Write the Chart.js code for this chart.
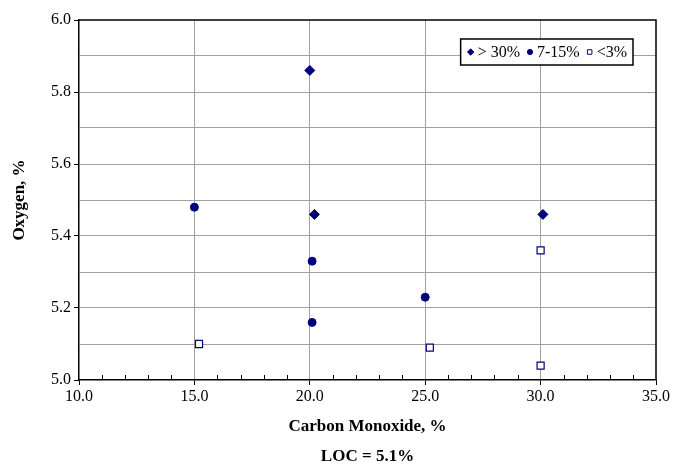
<!DOCTYPE html>
<html>
<head>
<meta charset="utf-8">
<script src="https://cdn.jsdelivr.net/npm/chart.js@4/dist/chart.umd.min.js"></script>
<style>
  html, body { margin: 0; padding: 0; background: #fff; }
  #wrap { width: 675px; height: 467px; }
</style>
</head>
<body>
<div id="wrap"><canvas id="c" width="675" height="467"></canvas></div>
<script>
// ---- data ----
const seriesNames = ['> 30%', '7-15%', '<3%'];
const above30X = [20.0, 20.2, 30.1];
const above30Y = [5.86, 5.46, 5.46];
const mid7to15X = [15.0, 20.1, 20.1, 25.0];
const mid7to15Y = [5.48, 5.33, 5.16, 5.23];
const below3X = [15.2, 25.2, 30.0, 30.0];
const below3Y = [5.10, 5.09, 5.36, 5.04];
const xTitle = ['Carbon Monoxide, %', 'LOC = 5.1%'];
const yTitle = 'Oxygen, %';

const FONT = '"Liberation Serif", "Times New Roman", serif';
const NAVY = '#000080';
const GRID = '#a0a0a0';

function pts(xs, ys) { return xs.map((x, i) => ({ x: x, y: ys[i] })); }

const framePlugin = {
  id: 'frame',
  beforeDatasetsDraw(chart) {
    const { ctx, chartArea: a } = chart;
    const xs = chart.scales.x;
    ctx.save();
    ctx.strokeStyle = '#000';
    ctx.lineWidth = 1;
    xs.ticks.forEach(t => {
      if (Math.round(t.value) % 5 !== 0) {
        const px = Math.round(xs.getPixelForValue(t.value)) + 0.5;
        ctx.beginPath();
        ctx.moveTo(px, a.bottom);
        ctx.lineTo(px, a.bottom - 5);
        ctx.stroke();
      }
    });
    ctx.lineWidth = 1.5;
    ctx.beginPath();
    ctx.moveTo(a.left, a.top);
    ctx.lineTo(a.right, a.top);
    ctx.lineTo(a.right, a.bottom);
    ctx.stroke();
    ctx.restore();
  },
  afterDraw(chart) {
    // boxed legend in the top-right corner of the plot, built from the datasets
    const { ctx, chartArea: a } = chart;
    const ds = chart.data.datasets;
    ctx.save();
    ctx.font = '16px ' + FONT;
    const markGap = 7, itemGap = 10, padL = 10, padR = 6;
    const widths = ds.map(d => ctx.measureText(d.label).width);
    let total = padL + padR;
    widths.forEach((w, i) => { total += markGap + w + (i < widths.length - 1 ? itemGap : 0); });
    const right = a.right - 23;
    const left = right - total;
    const top = a.top + 19, h = 26, cy = top + h / 2;
    ctx.fillStyle = '#fff';
    ctx.fillRect(left, top, total, h);
    ctx.strokeStyle = '#000';
    ctx.lineWidth = 1.5;
    ctx.strokeRect(left, top, total, h);
    let x = left + padL;
    ds.forEach((d, i) => {
      ctx.fillStyle = d.backgroundColor;
      ctx.strokeStyle = d.borderColor;
      ctx.lineWidth = 1;
      Chart.helpers.drawPoint(ctx, { pointStyle: d.pointStyle, radius: d.pointStyle === 'circle' ? 2.6 : 3.2, borderWidth: 1, rotation: 0 }, x, cy);
      ctx.fillStyle = '#000';
      ctx.textBaseline = 'middle';
      ctx.textAlign = 'left';
      ctx.fillText(d.label, x + markGap, cy + 1);
      x += markGap + widths[i] + itemGap;
    });
    ctx.restore();
  }
};

new Chart(document.getElementById('c'), {
  type: 'scatter',
  data: {
    datasets: [
      { label: seriesNames[0], data: pts(above30X, above30Y), pointStyle: 'rectRot', pointRadius: 5, pointHoverRadius: 5,
        backgroundColor: NAVY, borderColor: NAVY, borderWidth: 1 },
      { label: seriesNames[1], data: pts(mid7to15X, mid7to15Y), pointStyle: 'circle', pointRadius: 4, pointHoverRadius: 4,
        backgroundColor: NAVY, borderColor: NAVY, borderWidth: 1 },
      { label: seriesNames[2], data: pts(below3X, below3Y), pointStyle: 'rect', pointRadius: 5, pointHoverRadius: 5,
        backgroundColor: '#fff', borderColor: NAVY, borderWidth: 1.2 }
    ]
  },
  options: {
    responsive: false,
    animation: false,
    layout: { padding: { left: 0, right: 19, top: 20, bottom: 0 } },
    plugins: {
      tooltip: { enabled: false },
      legend: { display: false }
    },
    scales: {
      x: {
        type: 'linear',
        min: 10, max: 35,
        afterFit(s) { s.height = 87; },
        ticks: {
          stepSize: 1,
          autoSkip: false,
          maxRotation: 0,
          padding: 2,
          color: '#000',
          font: { family: FONT, size: 16 },
          callback: v => (Math.round(v) % 5 === 0 ? Number(v).toFixed(1) : '')
        },
        grid: {
          color: c => {
            const v = Math.round(c.tick.value);
            return (v % 5 === 0 && v !== 10 && v !== 35) ? GRID : 'rgba(0,0,0,0)';
          },
          tickColor: c => (Math.round(c.tick.value) % 5 === 0 ? '#000' : 'rgba(0,0,0,0)'),
          tickLength: 5,
          lineWidth: 1
        },
        border: { color: '#000', width: 1.5 },
        title: {
          display: true,
          text: xTitle,
          color: '#000',
          font: { family: FONT, size: 17, weight: 'bold', lineHeight: 30 / 17 },
          padding: { top: 0, bottom: -5 }
        }
      },
      y: {
        type: 'linear',
        min: 5, max: 6,
        afterFit(s) { s.width = 79; },
        ticks: {
          stepSize: 0.1,
          autoSkip: false,
          padding: 3,
          color: '#000',
          font: { family: FONT, size: 16 },
          callback: v => (Math.round(v * 10) % 2 === 0 ? Number(v).toFixed(1) : '')
        },
        grid: {
          color: c => {
            const k = Math.round(c.tick.value * 10);
            return (k === 50 || k === 60) ? 'rgba(0,0,0,0)' : GRID;
          },
          tickColor: c => (Math.round(c.tick.value * 10) % 2 === 0 ? '#000' : 'rgba(0,0,0,0)'),
          tickLength: 5,
          lineWidth: 1
        },
        border: { color: '#000', width: 1.5 },
        title: {
          display: true,
          text: yTitle,
          color: '#000',
          font: { family: FONT, size: 17, weight: 'bold' },
          padding: { top: 9, bottom: 0 }
        }
      }
    }
  },
  plugins: [framePlugin]
});
</script>
</body>
</html>
